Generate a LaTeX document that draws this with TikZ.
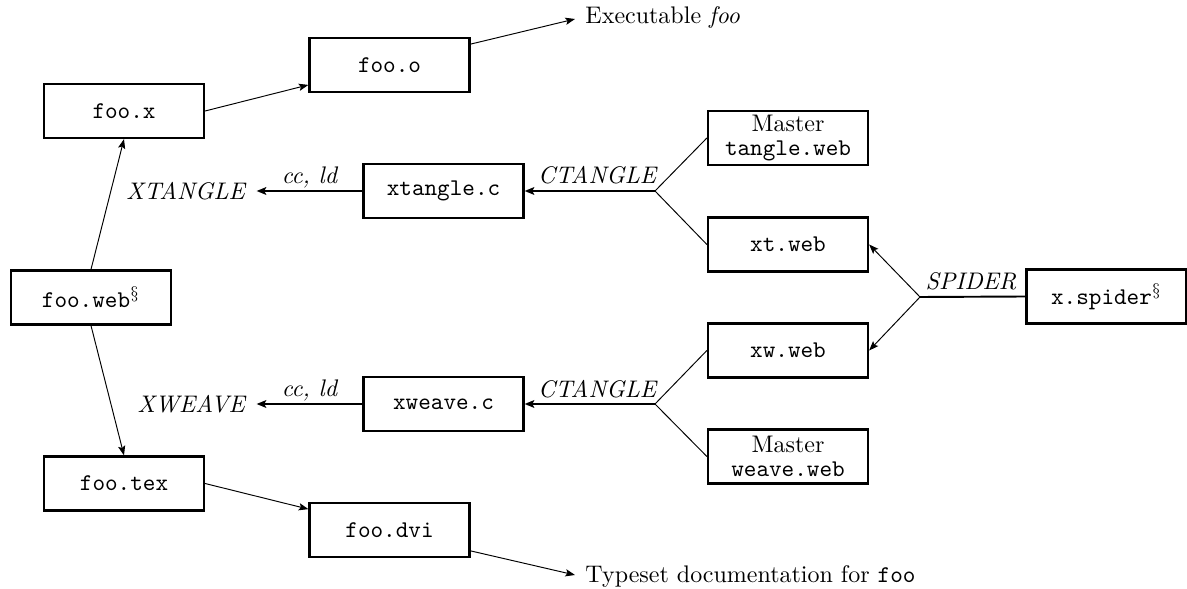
\documentclass[tikz,border=0pt]{standalone}
\usetikzlibrary{arrows.meta}
\begin{document}
\begin{tikzpicture}[x=0.41667pt,y=-0.41667pt,
  filebox/.style={draw,line width=0.9pt,minimum width=66.7pt,minimum height=22.5pt,inner sep=0pt,align=center,font=\ttfamily},
  lbl/.style={inner sep=0pt},
  thinarr/.style={line width=0.4pt,-{Stealth[length=4pt,width=3pt,inset=0.8pt]}},
  thickarr/.style={line width=0.8pt,-{Stealth[length=4pt,width=3.2pt,inset=0.8pt]}},
  thinln/.style={line width=0.4pt},
  thickln/.style={line width=0.8pt}]
\useasboundingbox (0,0) rectangle (1187,589);
% boxes
\node[filebox] (fx) at (124,111) {foo.x};
\node[filebox] (fo) at (389.5,65) {foo.o};
\node[filebox] (fw) at (91,297.5) {foo.web$^{\S}$};
\node[filebox] (ft) at (124,483.5) {foo.tex};
\node[filebox] (fd) at (389.5,530) {foo.dvi};
\node[filebox] (xtc) at (443.5,191) {xtangle.c};
\node[filebox] (xwc) at (443.5,404) {xweave.c};
\node[filebox] (tw) at (788,138) {{\rmfamily Master}\\[-2pt]tangle.web};
\node[filebox] (xtw) at (788,244.5) {xt.web};
\node[filebox] (xww) at (788,350.5) {xw.web};
\node[filebox] (ww) at (788,456.5) {{\rmfamily Master}\\[-2pt]weave.web};
\node[filebox] (xs) at (1106.5,296.5) {x.spider$^{\S}$};
% labels
\node[lbl,anchor=base west] (exe) at (585,24) {Executable \textit{foo}};
\node[lbl,anchor=base west] (tys) at (585,582) {Typeset documentation for \texttt{foo}};
\node[lbl,anchor=east] (xtl) at (247,191) {\textit{XTANGLE}};
\node[lbl,anchor=east] (xwl) at (247,404) {\textit{XWEAVE}};
\node[lbl] (cc1) at (310,177) {\textit{cc, ld}};
\node[lbl] (cc2) at (310,390) {\textit{cc, ld}};
\node[lbl] (ct1) at (598,175.5) {\textit{CTANGLE}};
\node[lbl] (ct2) at (598,389.5) {\textit{CTANGLE}};
\node[lbl] (spl) at (971,281) {\textit{SPIDER}};
% junctions and free ends
\coordinate (jt) at (655,191);
\coordinate (jw) at (655,404);
\coordinate (js) at (920,297);
\coordinate (exeend) at (575,19);
\coordinate (tysend) at (575,575);
% connectors
\draw[thinarr] (fx.east) -- ([yshift=-8.3pt]fo.west);
\draw[thinarr] ([yshift=8.7pt]fo.east) -- (exeend);
\draw[thinarr] (fw.north) -- (fx.south);
\draw[thinarr] (fw.south) -- (ft.north);
\draw[thinarr] (ft.east) -- ([yshift=8.7pt]fd.west);
\draw[thinarr] ([yshift=-8.7pt]fd.east) -- (tysend);
\draw[thickarr] (xtc.west) -- ([xshift=4pt]xtl.east);
\draw[thickarr] (xwc.west) -- ([xshift=4pt]xwl.east);
\draw[thickarr] (jt) -- (xtc.east);
\draw[thickarr] (jw) -- (xwc.east);
\draw[thinln] (tw.west) -- (jt) -- (xtw.west);
\draw[thinln] (xww.west) -- (jw) -- (ww.west);
\draw[thickln] (xs.west) -- (js);
\draw[thinarr] (js) -- (xtw.east);
\draw[thinarr] (js) -- (xww.east);
\end{tikzpicture}
\end{document}
